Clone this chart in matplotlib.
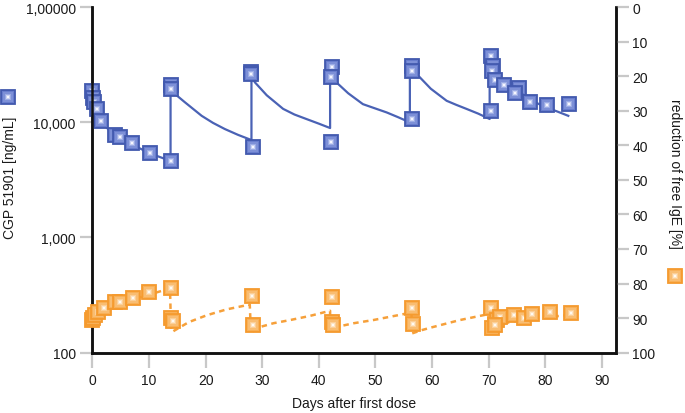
import matplotlib
matplotlib.use("Agg")
import matplotlib.pyplot as plt
import numpy as np

plt.rcParams['font.family'] = ['Liberation Sans', 'DejaVu Sans']

# observed serum concentration (blue, left log axis)
conc_days = [0.0, 0.14, 0.32, 0.74, 1.5, 4.0, 4.9, 6.9, 10.2, 13.8, 13.9, 13.9,
             28.1, 28.1, 28.4, 42.4, 42.1, 42.1, 56.5, 56.5, 56.4,
             70.5, 70.8, 70.7, 71.2, 72.7, 75.4, 74.6, 77.3, 80.4, 84.2, 70.4]
conc_vals = [18800, 16200, 15100, 13100, 10300, 7760, 7500, 6610, 5410, 4580, 21100, 19500,
             27500, 26300, 6140, 30100, 24900, 6700, 30700, 28100, 10700,
             37900, 31100, 28100, 23300, 21200, 19800, 17900, 14900, 14100, 14400, 12600]

# model curve for concentration
conc_fit_days = [0.0, 0.44, 1.5, 2.5, 3.7, 5.2, 6.9, 8.5, 10.2, 12.0, 13.8,
                 13.8, 14.2, 16.3, 19.3, 21.3, 23.4, 25.7, 28.1,
                 28.1, 28.7, 30.8, 33.7, 35.7, 37.8, 40.0, 42.0,
                 42.0, 43.1, 45.2, 47.8, 50.0, 52.0, 54.0, 56.1,
                 56.1, 57.6, 59.8, 62.6, 64.3, 66.1, 68.2, 70.2,
                 70.2, 71.5, 72.9, 74.6, 76.4, 78.3, 80.2, 82.2, 84.1]
conc_fit_vals = [18700, 16000, 10300, 9000, 7900, 7100, 6470, 5900, 5370, 4980, 4630,
                 20300, 18300, 15000, 11400, 9900, 8750, 7800, 7020,
                 25400, 22300, 17200, 13100, 11700, 10700, 9750, 8930,
                 23800, 22300, 17900, 14400, 13200, 12200, 11100, 10000,
                 26300, 25400, 19600, 15400, 14200, 13100, 11900, 10700,
                 25300, 26800, 20800, 18400, 16500, 14900, 13500, 12400, 11400]

# observed reduction of free IgE (orange, right axis)
ige_days = [0.0, 0.05, 0.44, 1.0, 2.0, 4.0, 4.9, 7.1, 10.0, 13.9, 13.9, 14.3,
            28.2, 28.3, 42.3, 42.3, 42.5, 56.5, 56.6,
            70.5, 71.5, 72.0, 70.7, 71.1, 74.5, 76.2, 77.7, 80.8, 84.5]
ige_vals = [90.6, 89.9, 89.2, 88.2, 87.0, 85.5, 85.5, 84.3, 82.4, 81.2, 90.1, 90.9,
            83.6, 91.9, 83.9, 91.1, 92.1, 87.0, 91.8,
            87.2, 90.6, 89.7, 92.8, 91.9, 89.2, 89.9, 88.7, 88.2, 88.4]

# model curve for IgE reduction
ige_fit_days = [0.1, 1.8, 3.7, 5.7, 7.8, 10.7, 13.7, 13.9, 14.3, 17.0, 20.2, 23.7, 27.8,
                28.0, 28.4, 29.6, 32.0, 34.9, 38.4, 42.0, 42.0, 43.1, 46.2, 49.6, 55.5, 56.4,
                56.4, 58.2, 60.2, 64.9, 69.9, 70.2, 72.0, 75.0, 78.0, 82.6, 84.4]
ige_fit_vals = [91.1, 88.8, 86.8, 85.4, 84.3, 82.9, 81.4, 93.8, 93.8, 91.2, 89.2, 87.5, 86.1,
                93.8, 93.8, 92.6, 91.5, 90.6, 89.4, 87.9, 92.6, 92.6, 91.5, 90.6, 88.7, 88.7,
                94.5, 93.5, 92.6, 90.6, 88.9, 93.5, 91.8, 90.8, 90.0, 89.4, 89.1]

x_ticks = [0, 10, 20, 30, 40, 50, 60, 70, 80, 90]
left_ticks = [100, 1000, 10000, 100000]
left_labels = ['100', '1,000', '10,000', '1,00000']
right_ticks = [0, 10, 20, 30, 40, 50, 60, 70, 80, 90, 100]

blue_edge = '#4259ae'
blue_layers = ['#5a70c6', '#687dcd', '#7d90d7', '#9cace4', '#cbd3f3', '#f6f7fe']
orange_edge = '#f59a2e'
orange_layers = ['#f7a644', '#f8b057', '#f9bd72', '#fbcf98', '#fde5c6', '#fffaf2']
layer_sizes = [10.0, 8.2, 6.6, 5.0, 3.5, 2.0]


def squares(axis, x, y, edge, layers, transform=None):
    # one point at a time so later markers cover earlier ones completely
    for i, (xi, yi) in enumerate(zip(x, y)):
        kw = dict(linestyle='none', marker='s', clip_on=False, zorder=5 + i * 0.01)
        if transform is not None:
            kw['transform'] = transform
        axis.plot([xi], [yi], markersize=layer_sizes[0], markerfacecolor=layers[0],
                  markeredgecolor=edge, markeredgewidth=1.3, **kw)
        for ms, c in zip(layer_sizes[1:], layers[1:]):
            axis.plot([xi], [yi], markersize=ms, markerfacecolor=c, markeredgewidth=0, **kw)


fig = plt.figure(figsize=(6.85, 4.14), dpi=100)
ax = fig.add_axes([0.135, 0.146, 0.764, 0.834])
ax2 = ax.twinx()

ax.set_yscale('log')
ax.set_ylim(100, 100000)
ax.set_xlim(0, 92.5)
ax2.set_ylim(100, 0)

ax.plot(conc_fit_days, conc_fit_vals, color='#4a62b5', lw=1.6, zorder=3)
squares(ax, conc_days, conc_vals, blue_edge, blue_layers)

ax2.plot(ige_fit_days, ige_fit_vals, color='#f6a03a', lw=1.8,
         linestyle=(0, (2.2, 1.8)), zorder=3)
squares(ax2, ige_days, ige_vals, orange_edge, orange_layers)

ax.set_yticks(left_ticks)
ax.set_yticklabels(left_labels)
ax.yaxis.set_minor_locator(matplotlib.ticker.NullLocator())
ax.set_xticks(x_ticks)
ax2.set_yticks(right_ticks)

for a in (ax, ax2):
    a.spines['top'].set_visible(False)
    for s in ('left', 'right', 'bottom'):
        a.spines[s].set_linewidth(1.8)
        a.spines[s].set_color('#111111')
    a.tick_params(axis='both', which='major', length=9, width=1.6, color='#c8c8c8',
                  labelsize=10, labelcolor='#1a1a1a', pad=3)
ax.tick_params(axis='x', length=11, pad=4)

ax.set_xlabel('Days after first dose', fontsize=10, labelpad=6, color='#1a1a1a')
fig.text(0.015, 0.57, 'CGP 51901 [ng/mL]', rotation=90, fontsize=10,
         ha='center', va='center', color='#1a1a1a')
fig.text(0.985, 0.58, 'reduction of free IgE [%]', rotation=-90, fontsize=10,
         ha='center', va='center', color='#1a1a1a')

# marker icons next to the axis titles
squares(fig.gca(), [0.012], [0.763], blue_edge, blue_layers, transform=fig.transFigure)
squares(fig.gca(), [0.985], [0.331], orange_edge, orange_layers, transform=fig.transFigure)

fig.savefig('out.png', dpi=100)
